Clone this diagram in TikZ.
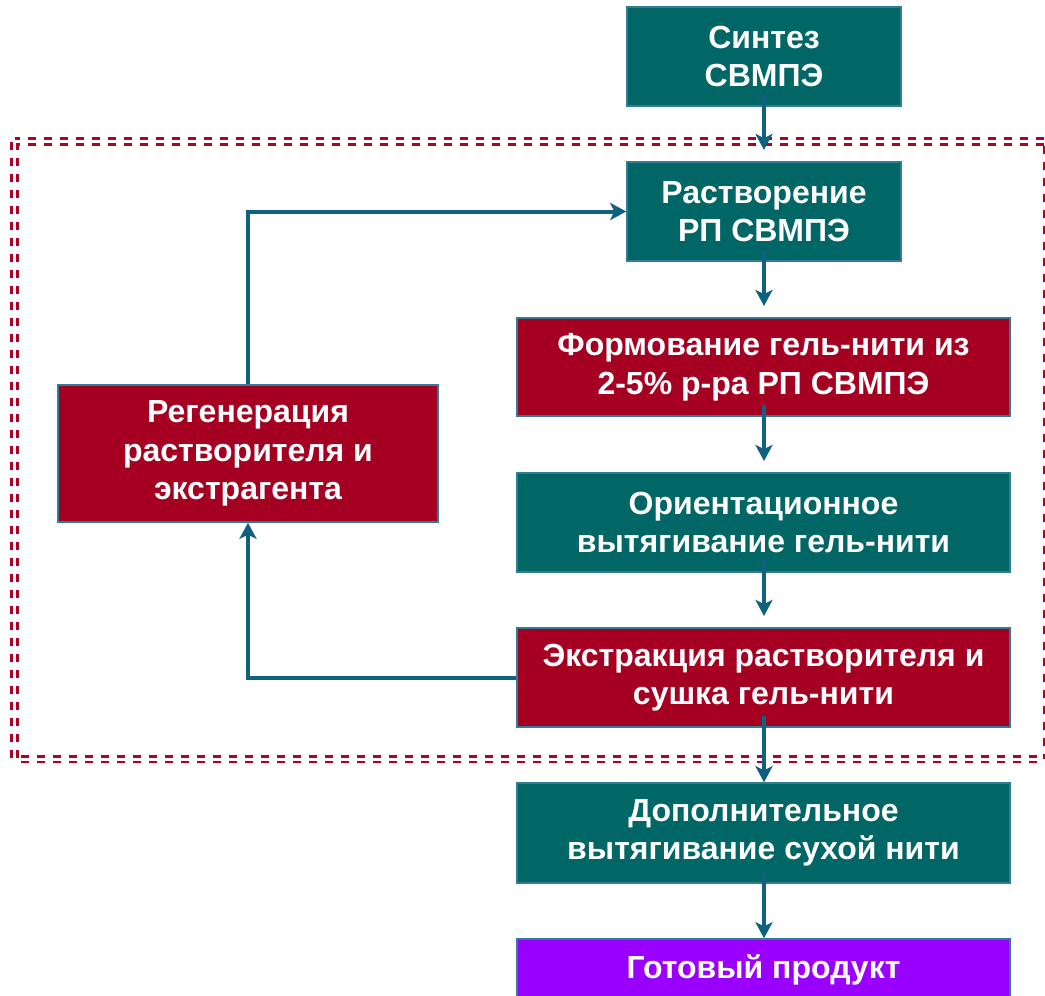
\documentclass[tikz,border=0pt]{standalone}
\usepackage{fontspec}
\setmainfont{Liberation Sans}
\usetikzlibrary{arrows.meta}
\definecolor{tealbox}{RGB}{0,102,102}
\definecolor{redbox}{RGB}{165,0,33}
\definecolor{purplebox}{RGB}{153,0,255}
\definecolor{bordc}{RGB}{49,125,150}
\definecolor{arrowc}{RGB}{16,96,128}
\definecolor{framec}{RGB}{176,0,40}
\begin{document}
\begin{tikzpicture}[x=1pt,y=-1pt,
  box/.style={draw=bordc, line width=1.5pt, text=white, align=center, inner sep=0pt,
    font=\fontsize{32}{38.5}\selectfont\bfseries},
  tealb/.style={box, fill=tealbox},
  redb/.style={box, fill=redbox},
  purpb/.style={box, fill=purplebox},
  conn/.style={draw=arrowc, line width=4pt, -{Stealth[length=16pt,width=17pt,inset=4pt]}},
  frame/.style={draw=framec, line width=2.8pt, double=white, double distance=3pt, dash pattern=on 8pt off 8pt}
]
\useasboundingbox (0,0) rectangle (1045,996);
\draw[frame] (14.5,141.5) rectangle (1047.5,759);

\node[tealb, minimum width=274pt, minimum height=99pt] (s) at (764,56.5) {Синтез\\СВМПЭ};
\node[tealb, minimum width=274pt, minimum height=99pt] (r) at (764,211.5) {Растворение\\РП СВМПЭ};
\node[redb, minimum width=493pt, minimum height=98pt] (f) at (763.5,367) {Формование гель-нити из\\2-5\% р-ра РП СВМПЭ};
\node[tealb, minimum width=493pt, minimum height=99pt] (o) at (763.5,522.5) {Ориентационное\\вытягивание гель-нити};
\node[redb, minimum width=493pt, minimum height=99pt] (e) at (763.5,677.5) {Экстракция растворителя и\\сушка гель-нити};
\node[tealb, minimum width=493pt, minimum height=100pt] (d) at (763.5,833) {Дополнительное\\вытягивание сухой нити};
\node[purpb, minimum width=493pt, minimum height=62pt] (g) at (763.5,970) {Готовый продукт};
\node[redb, minimum width=380pt, minimum height=137pt] (reg) at (248,453.5) {Регенерация\\растворителя и\\экстрагента};

\draw[conn, shorten >=12pt] (764,96) -- (764,162);
\draw[conn, shorten >=12pt] (764,250) -- (764,318);
\draw[conn, shorten >=12pt] (764,405) -- (764,473);
\draw[conn, shorten >=12pt] (764,560) -- (764,628);
\draw[conn] (764,716) -- (d.north -| 764,0);
\draw[conn] (764,872) -- (g.north -| 764,0);
\draw[conn] (e.west) -| (reg.south);
\draw[conn] (reg.north) |- (r.west);
\end{tikzpicture}
\end{document}
